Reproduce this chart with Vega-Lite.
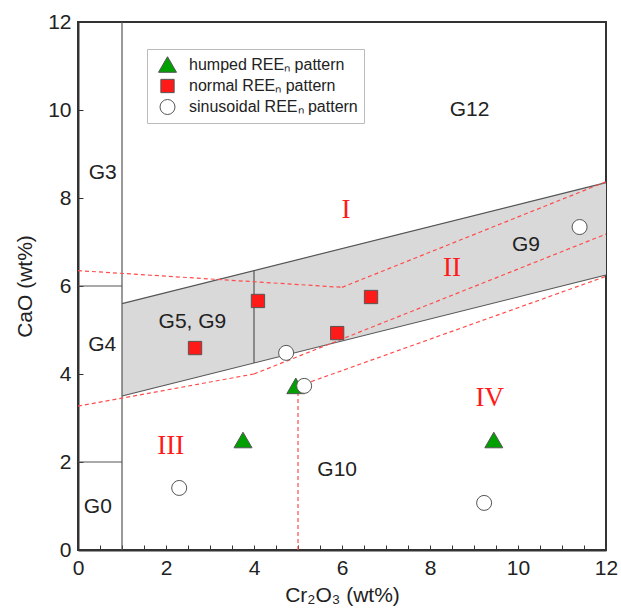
{
  "$schema": "https://vega.github.io/schema/vega-lite/v6.json",
  "width": 528,
  "height": 528,
  "autosize": {"type": "none"},
  "padding": {"left": 78, "top": 22, "right": 15, "bottom": 59},
  "background": "white",
  "config": {
    "font": "Liberation Sans",
    "view": {"stroke": "#333", "strokeWidth": 2},
    "axis": {
      "grid": false,
      "zindex": 1,
      "domainColor": "#333",
      "domainWidth": 2,
      "tickColor": "#333",
      "tickWidth": 1,
      "tickSize": -5,
      "labelFontSize": 21,
      "labelColor": "#222",
      "labelFont": "Liberation Sans",
      "titleFont": "Liberation Sans",
      "titleFontSize": 21,
      "titleFontWeight": "normal",
      "titleColor": "#222",
      "labelFlush": false,
      "labelOverlap": false
    },
    "legend": {
      "strokeColor": "#bbb",
      "fillColor": "white",
      "padding": 6,
      "rowPadding": 2,
      "labelFontSize": 16,
      "labelLimit": 400,
      "labelColor": "#222",
      "symbolStrokeWidth": 1,
      "symbolOffset": 5,
      "labelOffset": 12
    }
  },
  "datasets": {
    "band": [
      {"x": 1, "lo": 3.5, "hi": 5.6},
      {"x": 12, "lo": 6.25, "hi": 8.35}
    ],
    "solid": [
      {"x": 1, "y": 0, "x2": 1, "y2": 12},
      {"x": 0, "y": 6, "x2": 1, "y2": 6},
      {"x": 0, "y": 2, "x2": 1, "y2": 2},
      {"x": 1, "y": 5.6, "x2": 12, "y2": 8.35},
      {"x": 1, "y": 3.5, "x2": 12, "y2": 6.25},
      {"x": 4, "y": 4.25, "x2": 4, "y2": 6.35}
    ],
    "dashed": [
      {"x": 0, "y": 6.35, "x2": 6, "y2": 5.97},
      {"x": 6, "y": 5.97, "x2": 12, "y2": 8.37},
      {"x": 0, "y": 3.27, "x2": 4, "y2": 4.0},
      {"x": 4, "y": 4.0, "x2": 12, "y2": 7.18},
      {"x": 5, "y": 0, "x2": 5, "y2": 3.72},
      {"x": 5, "y": 3.72, "x2": 12, "y2": 6.22}
    ],
    "labels": [
      {"label": "G12", "x": 8.9, "y": 10.0},
      {"label": "G3", "x": 0.56, "y": 8.57},
      {"label": "G4", "x": 0.55, "y": 4.66},
      {"label": "G0", "x": 0.45, "y": 0.98},
      {"label": "G5, G9", "x": 2.6, "y": 5.18},
      {"label": "G9", "x": 10.18, "y": 6.93},
      {"label": "G10", "x": 5.89, "y": 1.82}
    ],
    "roman": [
      {"label": "I", "x": 6.09, "y": 7.73},
      {"label": "II", "x": 8.5, "y": 6.41},
      {"label": "III", "x": 2.11, "y": 2.36},
      {"label": "IV", "x": 9.36, "y": 3.46}
    ],
    "points": [
      {"type": "humped REEₙ pattern", "x": 3.75, "y": 2.5},
      {"type": "humped REEₙ pattern", "x": 4.95, "y": 3.73},
      {"type": "humped REEₙ pattern", "x": 9.45, "y": 2.5},
      {"type": "normal REEₙ pattern", "x": 2.66, "y": 4.59},
      {"type": "normal REEₙ pattern", "x": 4.09, "y": 5.66},
      {"type": "normal REEₙ pattern", "x": 5.89, "y": 4.93},
      {"type": "normal REEₙ pattern", "x": 6.66, "y": 5.75},
      {"type": "sinusoidal REEₙ pattern", "x": 2.3, "y": 1.41},
      {"type": "sinusoidal REEₙ pattern", "x": 4.73, "y": 4.48},
      {"type": "sinusoidal REEₙ pattern", "x": 5.14, "y": 3.73},
      {"type": "sinusoidal REEₙ pattern", "x": 9.23, "y": 1.07},
      {"type": "sinusoidal REEₙ pattern", "x": 11.4, "y": 7.34}
    ]
  },
  "encoding": {
    "x": {
      "field": "x",
      "type": "quantitative",
      "scale": {"domain": [0, 12], "nice": false},
      "axis": {
        "title": "Cr₂O₃ (wt%)",
        "format": "~g",
        "values": [0, 0.5, 1, 1.5, 2, 2.5, 3, 3.5, 4, 4.5, 5, 5.5, 6, 6.5, 7, 7.5, 8, 8.5, 9, 9.5, 10, 10.5, 11, 11.5, 12],
        "labelExpr": "datum.value % 2 === 0 ? datum.label : ''",
        "labelPadding": 12,
        "titlePadding": 6
      }
    },
    "y": {
      "field": "y",
      "type": "quantitative",
      "scale": {"domain": [0, 12], "nice": false},
      "axis": {
        "title": "CaO (wt%)",
        "format": "~g",
        "values": [0, 2, 4, 6, 8, 10, 12],
        "labelPadding": 12,
        "titlePadding": 12
      }
    }
  },
  "layer": [
    {
      "data": {"name": "band"},
      "mark": {"type": "area", "color": "#d9d9d9", "opacity": 1},
      "encoding": {
        "y": {"field": "lo", "type": "quantitative"},
        "y2": {"field": "hi"}
      }
    },
    {
      "data": {"name": "solid"},
      "mark": {"type": "rule", "color": "#555", "strokeWidth": 1.2},
      "encoding": {
        "x2": {"field": "x2"},
        "y2": {"field": "y2"}
      }
    },
    {
      "data": {"name": "dashed"},
      "mark": {"type": "rule", "color": "#ff4d4d", "strokeWidth": 1.2, "strokeDash": [4, 3]},
      "encoding": {
        "x2": {"field": "x2"},
        "y2": {"field": "y2"}
      }
    },
    {
      "data": {"name": "labels"},
      "mark": {"type": "text", "fontSize": 21, "color": "#222", "font": "Liberation Sans", "baseline": "middle", "align": "center"},
      "encoding": {"text": {"field": "label"}}
    },
    {
      "data": {"name": "roman"},
      "mark": {"type": "text", "fontSize": 27, "color": "#ff1a1a", "font": "Liberation Serif", "baseline": "middle", "align": "center"},
      "encoding": {"text": {"field": "label"}}
    },
    {
      "data": {"name": "points"},
      "mark": {"type": "point", "filled": true, "strokeWidth": 1, "opacity": 1},
      "encoding": {
        "shape": {
          "field": "type",
          "type": "nominal",
          "scale": {
            "domain": ["humped REEₙ pattern", "normal REEₙ pattern", "sinusoidal REEₙ pattern"],
            "range": ["triangle-up", "square", "circle"]
          },
          "legend": {"title": null, "orient": "none", "legendX": 69, "legendY": 27}
        },
        "fill": {
          "field": "type",
          "type": "nominal",
          "scale": {
            "domain": ["humped REEₙ pattern", "normal REEₙ pattern", "sinusoidal REEₙ pattern"],
            "range": ["#00a000", "#ff1a1a", "#ffffff"]
          },
          "legend": {"title": null, "orient": "none", "legendX": 69, "legendY": 27}
        },
        "stroke": {
          "field": "type",
          "type": "nominal",
          "scale": {
            "domain": ["humped REEₙ pattern", "normal REEₙ pattern", "sinusoidal REEₙ pattern"],
            "range": ["#555555", "#555555", "#555555"]
          },
          "legend": {"title": null, "orient": "none", "legendX": 69, "legendY": 27}
        },
        "size": {
          "field": "type",
          "type": "nominal",
          "scale": {
            "type": "ordinal",
            "domain": ["humped REEₙ pattern", "normal REEₙ pattern", "sinusoidal REEₙ pattern"],
            "range": [324, 177, 225]
          },
          "legend": {"title": null, "orient": "none", "legendX": 69, "legendY": 27}
        }
      }
    }
  ]
}
